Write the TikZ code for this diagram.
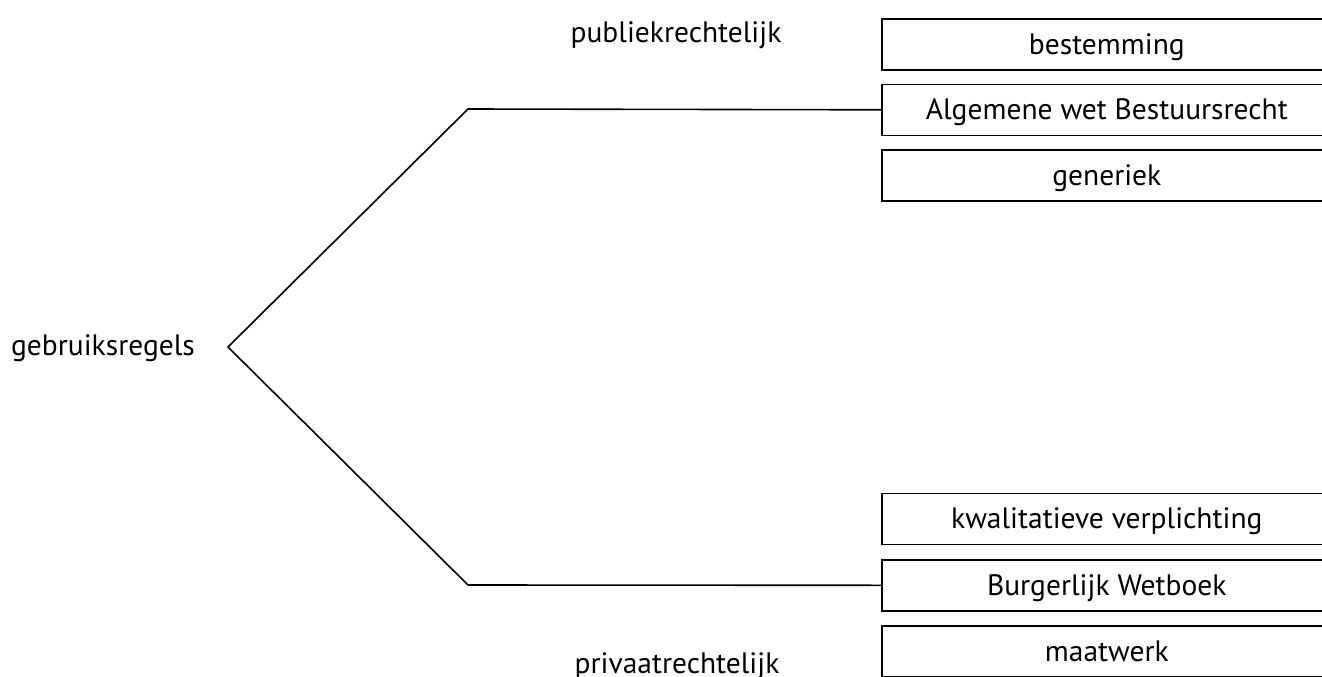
\documentclass[tikz,border=0pt]{standalone}
\usepackage{fontspec}
\setmainfont{PT Sans}
\begin{document}
\begin{tikzpicture}[x=1pt,y=-1pt,
  lbl/.style={font=\fontsize{29.5}{34}\selectfont, inner sep=0pt, anchor=base},
  rbox/.style={draw, line width=1.6pt, anchor=north west, minimum width=450pt, minimum height=51pt, inner sep=0pt, text height=24pt, text depth=4pt, font=\fontsize{29.5}{34}\selectfont},
  conn/.style={line width=1.6pt}]
\useasboundingbox (0,0) rectangle (1322,677);
\clip (0,0) rectangle (1322,677);
\node[lbl] (pub) at (676,43) {publiekrechtelijk};
\node[lbl] (priv) at (677,673) {privaatrechtelijk};
\node[lbl] (root) at (103,355) {gebruiksregels};
\node[rbox] (b1) at (881,18) {bestemming};
\node[rbox] (b2) at (881,83.5) {Algemene wet Bestuursrecht};
\node[rbox] (b3) at (881,149) {generiek};
\node[rbox] (b4) at (881,492.5) {kwalitatieve verplichting};
\node[rbox] (b5) at (881,559) {Burgerlijk Wetboek};
\node[rbox] (b6) at (881,625) {maatwerk};
\coordinate (v) at (228,347);
\coordinate (tc) at (468,109);
\coordinate (bc) at (468,585);
\draw[conn] (b2.west) -- (tc) -- (v) -- (bc) -- (b5.west);
\end{tikzpicture}
\end{document}
